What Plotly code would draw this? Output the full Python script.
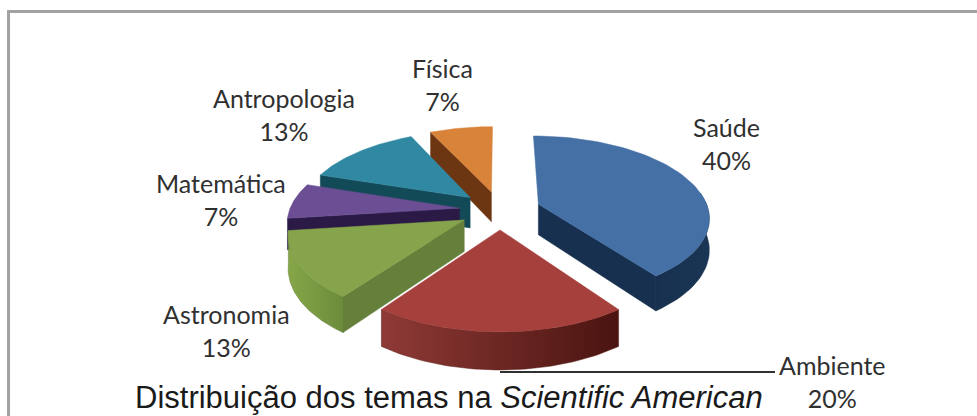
import math
import plotly.graph_objects as go

# ---- data ----
categories = ["Saúde", "Ambiente", "Astronomia", "Matemática", "Antropologia", "Física"]
values = [40, 20, 13, 7, 13, 7]

# ---- style ----
top_colors = ["#4470a6", "#a5403c", "#86a44c", "#6b4e94", "#3088a2", "#d9823a"]
side_colors = ["#17304f", "#5a1c19", "#64803a", "#2a1a45", "#124a58", "#6c3612"]
wall_grad = [
    ["#17304f", "#1a3654"],
    ["#8f3a36", "#4a1410"],
    ["#86a648", "#6c8c3c"],
    ["#2a1a45", "#2a1a45"],
    ["#124a58", "#124a58"],
    ["#6c3612", "#6c3612"],
]
label_xy = [(726, 143), (832, 381), (226, 330), (221, 199), (284, 114), (442, 84)]

# ---- projection of the tilted disc, in page pixels ----
CX, CY, A, B, K, PULL, DEPTH = 500, 210, 170, 80, 0.15, 0.24, 31


def project(X, Y, drop=0.0):
    s = 1 / (1 - K * Y)
    return CX + X * A * s, CY + Y * B * s + drop * s


def rim(theta, ox, oy, drop=0.0):
    return project(ox + math.sin(theta), oy - math.cos(theta), drop)


total = sum(values)
wedges = []
start = 0.0
for v in values:
    end = start + v / total * 2 * math.pi
    mid = (start + end) / 2
    wedges.append((start, end, PULL * math.sin(mid), -PULL * math.cos(mid)))
    start = end


def poly(fig, pts, color, grad=None):
    xs = [p[0] for p in pts] + [pts[0][0]]
    ys = [p[1] for p in pts] + [pts[0][1]]
    kw = dict(fillcolor=color)
    if grad:
        kw = dict(fillgradient=dict(type="horizontal",
                                    colorscale=[[0, grad[0]], [1, grad[1]]]))
    fig.add_trace(go.Scatter(x=xs, y=ys, mode="lines", fill="toself",
                             line=dict(width=0.5, color=color), hoverinfo="skip",
                             showlegend=False, **kw))


fig = go.Figure()
# back to front
for i in [5, 4, 3, 2, 0, 1]:
    a0, a1, ox, oy = wedges[i]
    n = 60
    arc = [a0 + (a1 - a0) * j / n for j in range(n + 1)]
    apex_t = project(ox, oy)
    apex_b = project(ox, oy, DEPTH)
    # radial side faces
    if i in (2, 3, 4, 5):
        poly(fig, [apex_t, rim(a0, ox, oy), rim(a0, ox, oy, DEPTH), apex_b], side_colors[i])
    if i == 0:
        poly(fig, [apex_t, rim(a1, ox, oy), rim(a1, ox, oy, DEPTH), apex_b], side_colors[i])
    # outer wall: only the part of the rim that faces the viewer
    if i in (0, 1, 2):
        front = [t for t in arc if math.cos(t) < 0.0 or i == 0 and t > math.pi * 0.45]
        wall = [rim(t, ox, oy) for t in front] + [rim(t, ox, oy, DEPTH) for t in reversed(front)]
        poly(fig, wall, side_colors[i], wall_grad[i])
    # top face
    poly(fig, [apex_t] + [rim(t, ox, oy) for t in arc], top_colors[i])

# leader line of the Ambiente label
fig.add_shape(type="line", x0=500, y0=372, x1=775, y1=372, line=dict(color="#303030", width=2))
# slide frame
fig.add_shape(type="path", path="M 8.5 416 L 8.5 11.5 L 977 11.5",
              line=dict(color="#a2a2a2", width=3))

for name, v, (x, y) in zip(categories, values, label_xy):
    fig.add_annotation(x=x, y=y, text=f"{name}<br>{v}%", showarrow=False,
                       font=dict(family="Lato", size=25, color="#303030"),
                       xanchor="center", yanchor="middle")

fig.add_annotation(x=133, y=397, text="Distribuição dos temas na <i>Scientific American</i>",
                   showarrow=False, xanchor="left", yanchor="middle",
                   font=dict(family="Liberation Sans", size=31, color="#1a1a1a"))

fig.update_xaxes(range=[0, 977], visible=False, fixedrange=True)
fig.update_yaxes(range=[416, 0], visible=False, fixedrange=True)
fig.update_layout(width=977, height=416, margin=dict(l=0, r=0, t=0, b=0),
                  paper_bgcolor="white", plot_bgcolor="white", showlegend=False)
fig.write_html("out.html", config={"displayModeBar": False},
               post_script="document.body.style.margin='0';")
